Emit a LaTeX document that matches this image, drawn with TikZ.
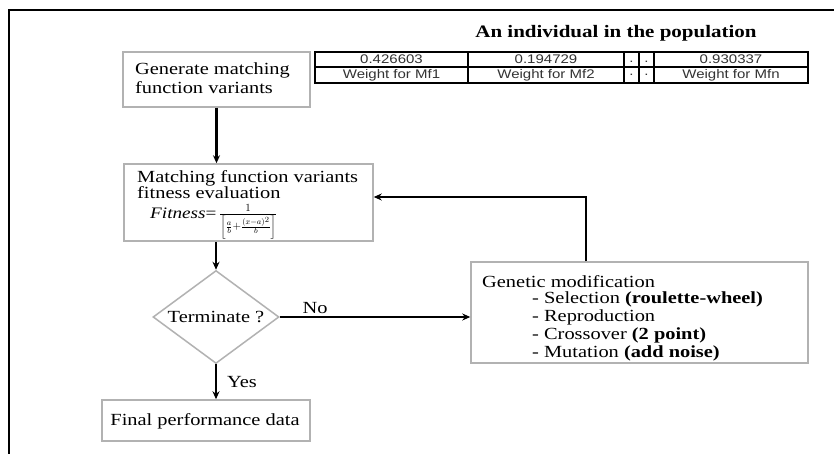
\documentclass[tikz,border=0pt]{standalone}
\usepackage{fontspec}
\setmainfont[FakeStretch=1.2]{Liberation Serif}
\newfontfamily\tablefont[FakeStretch=1.2]{Liberation Sans}
\usetikzlibrary{shapes.geometric,arrows.meta}
\begin{document}
\begin{tikzpicture}[x=1pt,y=-1pt,
  box/.style={draw=gray!60, line width=1.5pt, inner sep=0pt},
  txt/.style={font=\fontsize{17}{19}\selectfont, inner sep=0pt, align=left},
  conn/.style={line width=2.2pt, -{Stealth[length=8pt,width=7pt]}},
  cell/.style={font=\tablefont\fontsize{12.5}{13}\selectfont, text=black!80, inner sep=0pt},
  grid/.style={line width=2pt, draw=black}]
\useasboundingbox (0,0) rectangle (834,454);
\fill[white] (0,0) rectangle (834,454);
% frame
\draw[line width=2.8pt] (9,454) -- (9,10) -- (834,10);

% title and table
\node[font=\bfseries\fontsize{17.5}{19}\selectfont, inner sep=0pt] (title) at (616,33) {An individual in the population};
\draw[grid] (315,52) rectangle (808,83);
\draw[grid] (315,67) -- (808,67);
\draw[grid] (468,52) -- (468,83);
\draw[grid] (624,52) -- (624,83);
\draw[grid] (639,52) -- (639,83);
\draw[grid] (654,52) -- (654,83);
\node[cell] (c11) at (391.5,59.5) {0.426603};
\node[cell] (c12) at (546,59.5) {0.194729};
\node[cell] (c13) at (631.5,62) {.};
\node[cell] (c14) at (646.5,62) {.};
\node[cell] (c15) at (731,59.5) {0.930337};
\node[cell] (c21) at (391.5,75) {Weight for Mf1};
\node[cell] (c22) at (546,75) {Weight for Mf2};
\node[cell] (c23) at (631.5,75) {.};
\node[cell] (c24) at (646.5,75) {.};
\node[cell] (c25) at (731,75) {Weight for Mfn};

% boxes
\node[box, minimum width=187pt, minimum height=55pt] (gen) at (216.5,79.5) {};
\node[txt, anchor=west] (gentxt) at (135,78) {Generate matching\\function variants};

\node[box, minimum width=249pt, minimum height=77pt] (match) at (248.5,202.5) {};
\node[txt, anchor=west, font=\fontsize{17}{16}\selectfont] (matchtxt) at (137,185) {Matching function variants\\fitness evaluation};
\node[inner sep=0pt, anchor=west, font=\fontsize{16}{16}\selectfont] (fit) at (150,222)
  {\textit{Fitness}=\,$\frac{1}{\left[\frac{a}{b}+\frac{(x-a)^2}{b}\right]}$};

\node[box, diamond, minimum width=126pt, minimum height=93pt, aspect=1.355] (dia) at (216,317) {};
\node[txt] (term) at (216,317) {Terminate ?};

\node[box, minimum width=208pt, minimum height=41pt] (final) at (206,420.5) {};
\node[txt] (finaltxt) at (205,421) {Final performance data};

\node[box, minimum width=337pt, minimum height=101pt] (genmod) at (639.5,312.5) {};
\node[txt, anchor=west] (gmtitle) at (482,282) {Genetic modification};
\node[txt, anchor=west, font=\fontsize{17}{18}\selectfont] (gmlist) at (532,326)
  {- Selection \textbf{(roulette-wheel)}\\- Reproduction\\- Crossover \textbf{(2 point)}\\- Mutation \textbf{(add noise)}};

\node[txt] (no) at (315,308) {No};
\node[txt] (yes) at (242,382) {Yes};

% connectors
\coordinate (up) at (586,197);
\draw[conn] (gen.south) -- (gen.south |- match.north);
\draw[conn] (match.south -| dia.north) -- (dia.north);
\draw[conn] (dia.south) -- (dia.south |- final.north);
\draw[conn] (dia.east) -- (dia.east -| genmod.west);
\draw[conn] (genmod.north -| up) -- (up) -- (up -| match.east);
\end{tikzpicture}
\end{document}
